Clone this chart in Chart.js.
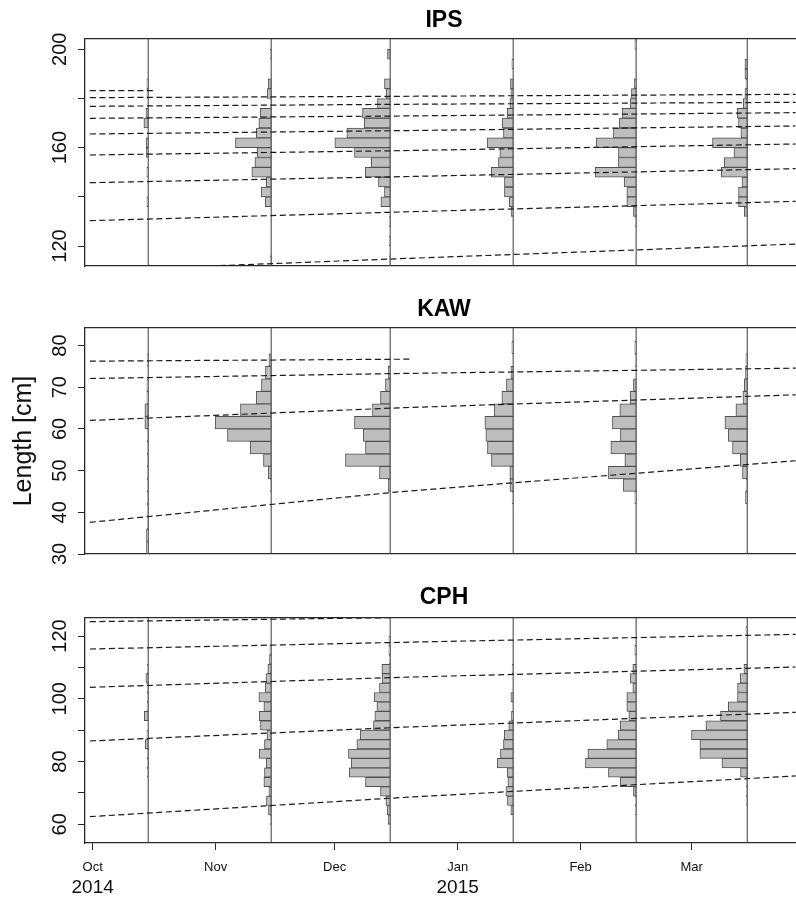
<!DOCTYPE html>
<html>
<head>
<meta charset="utf-8">
<title>Length frequency by month: IPS, KAW, CPH</title>
<script src="https://cdn.jsdelivr.net/npm/chart.js@4/dist/chart.umd.min.js"></script>
<style>
  html, body { margin: 0; padding: 0; background: #fff; width: 796px; height: 901px; overflow: hidden; }
  canvas { position: absolute; left: 0; }
</style>
</head>
<body>
<canvas id="ips" width="803" height="280" style="top:0px"></canvas>
<canvas id="kaw" width="803" height="295" style="top:280px"></canvas>
<canvas id="cph" width="803" height="326" style="top:575px"></canvas>
<script>
'use strict';

// x axis is "days after 1 Oct 2014"
const SAMPLE_DAYS = [14, 45, 75, 106, 137, 165];        // mid-month sampling dates
const MONTH_DAYS = [0, 31, 61, 92, 123, 151];
const MONTH_LABELS = ['Oct', 'Nov', 'Dec', 'Jan', 'Feb', 'Mar'];
const YEAR_DAYS = [0, 92];
const YEAR_LABELS = ['2014', '2015'];
const X_MIN = -1.93;
const X_MAX = 179.06;
const FREQ_TO_DAYS = 1 / 3.967;   // histogram bar length -> x units

// ---- IPS: 4 cm bins starting at 112 ----
const IPS_BIN_START = 112;
const IPS_BIN_WIDTH = 4;
const IPS_OCT = [0, 0, 0, 0, 0, 0, 1.3, 0, 0, 1.3, 0, 2, 2, 0, 4.3, 2.3, 0, 1.3, 1.3, 0, 0, 0, 0];
const IPS_NOV = [1, 0, 0, 0, 0, 0, 6, 10, 5, 19.3, 16.3, 14, 35.7, 15, 12.3, 11, 1, 4, 3, 0, 0, 1, 0];
const IPS_DEC = [1, 0, 1, 0, 1, 0, 9.3, 5.7, 11.7, 25, 19, 35.7, 55.3, 43.3, 26, 27.7, 12.7, 4, 5.7, 0, 0, 2.7, 0];
const IPS_JAN = [0, 0, 0, 0, 0, 2, 4, 8.7, 8.7, 22, 14.7, 13.3, 26, 9.7, 11, 6, 3.3, 2.3, 2.7, 0, 1.3, 0, 0];
const IPS_FEB = [0, 0, 0, 0, 1, 2.7, 9.3, 9.3, 12, 41, 17.7, 17.7, 40, 22.7, 17, 14, 6, 4.7, 2, 0, 0, 0, 1.3];
const IPS_MAR = [0, 0, 0, 0, 0, 3, 8.7, 8.7, 5.3, 26, 23, 13.3, 34.7, 6.3, 8.7, 10, 4, 2.3, 1.3, 2.3, 2.3, 0, 0];
const IPS_GROWTH = [
  [[-0.7, 183.2], [15.2, 183.2]],
  [[-0.7, 180.34], [77.5, 180.88], [177.2, 181.69]],
  [[-0.7, 176.81], [77.5, 177.63], [177.2, 178.44]],
  [[-0.7, 171.93], [77.5, 172.88], [177.2, 174.24]],
  [[-0.7, 165.56], [77.5, 166.92], [177.2, 168.81]],
  [[-0.7, 157.02], [77.5, 158.78], [177.2, 161.49]],
  [[-0.7, 145.76], [77.5, 148.2], [177.2, 151.46]],
  [[-0.7, 130.3], [77.5, 133.83], [177.2, 138.17]],
  [[32, 112.0], [77.5, 114.85], [177.2, 120.8]],
];

// ---- KAW: 3 cm bins starting at 30 ----
const KAW_BIN_START = 30;
const KAW_BIN_WIDTH = 3;
const KAW_OCT = [1.7, 1.7, 1, 1, 1, 1, 1, 1, 1, 1, 3.3, 3.3, 1.3, 1.3, 0, 1, 0, 0];
const KAW_NOV = [0, 0, 0, 0, 0, 1, 3, 7.7, 21, 43.7, 56, 30.7, 15, 9.7, 5.7, 2.3, 0, 0];
const KAW_DEC = [0, 0, 0, 0, 0, 2, 10.7, 44.7, 24.7, 27, 35.7, 17.7, 9.7, 4.7, 2, 0, 0, 0];
const KAW_JAN = [0, 0, 0, 0, 1, 3.3, 3.3, 21.7, 25.7, 27.3, 28.3, 19, 11.3, 6.7, 2.3, 0, 1.3, 0];
const KAW_FEB = [0, 0, 0, 0, 1.3, 13, 27.7, 11.3, 25.3, 15.7, 23.7, 16.3, 6, 2.7, 0, 1, 1.3, 0];
const KAW_MAR = [0, 0, 0, 0, 1.7, 1, 4.7, 7, 14.7, 19, 22.3, 11.3, 4.3, 3, 1.7, 1.3, 0, 0];
const KAW_GROWTH = [
  [[-0.7, 76.25], [80.7, 76.73]],
  [[-0.7, 72.09], [77.5, 73.29], [177.2, 74.57]],
  [[-0.7, 62.03], [77.5, 65.06], [177.2, 68.18]],
  [[-0.7, 37.59], [77.5, 44.94], [177.2, 52.36]],
];

// ---- CPH: 3 cm bins starting at 57 ----
const CPH_BIN_START = 57;
const CPH_BIN_WIDTH = 3;
const CPH_OCT = [0, 0, 0, 0, 0, 0, 1, 1, 1, 3, 1.3, 0, 4, 1, 1, 1, 2.3, 1, 0, 0, 0, 0];
const CPH_NOV = [0, 1, 2.7, 4.7, 2.3, 7.3, 6.7, 5, 12, 6.7, 4.3, 10.7, 12, 7.3, 12.3, 6, 5.3, 3.3, 1.7, 1.3, 0, 0];
const CPH_DEC = [0, 2, 3, 4.3, 9.7, 24.7, 41, 39, 41.7, 33.3, 30, 16.7, 15.3, 13.3, 16, 10.7, 8, 8.3, 1, 1.3, 1.3, 0];
const CPH_JAN = [0, 0, 2.3, 5.7, 7.3, 5.3, 6, 16, 12.7, 9.7, 9, 4.3, 1.7, 0, 2.3, 0, 0, 1, 0, 0, 0, 0];
const CPH_FEB = [0, 0, 1, 1, 2.7, 16, 27.7, 50.7, 48.3, 29.3, 18, 16, 7.3, 9.3, 9.3, 3.3, 6, 3.3, 0, 1.3, 0, 0];
const CPH_MAR = [0, 0, 0, 0.7, 0.7, 0.7, 6.7, 25.3, 47.3, 47.3, 55.7, 41.3, 26.7, 19, 9.7, 9.7, 7, 3.3, 0, 0, 0, 1.3];
const CPH_GROWTH = [
  [[-0.7, 124.57], [74.9, 125.84]],
  [[-0.7, 115.86], [77.5, 117.98], [177.2, 120.53]],
  [[-0.7, 103.65], [77.5, 106.83], [177.2, 110.12]],
  [[-0.7, 86.55], [77.5, 90.9], [177.2, 95.68]],
  [[-0.7, 62.44], [77.5, 68.5], [177.2, 75.4]],
];

const AXIS = '#2a2a2a';
Chart.defaults.font.family = "'Liberation Sans', Arial, Helvetica, sans-serif";
Chart.defaults.color = '#111';

function makePanel(p) {
  const datasets = [];

  p.growth.forEach(line => datasets.push({
    type: 'line', indexAxis: 'x', xAxisID: 'x', yAxisID: 'y',
    data: line.map(([x, y]) => ({ x, y })),
    borderColor: '#1a1a1a', borderWidth: 1.2, borderDash: [6, 3.5],
    pointRadius: 0, fill: false, order: 0,
  }));

  p.hist.forEach((freqs, m) => datasets.push({
    type: 'bar', indexAxis: 'y', xAxisID: 'x', yAxisID: 'y', grouped: false,
    data: freqs
      .map((f, i) => ({ f, i }))
      .filter(d => d.f > 0)
      .map(d => ({
        y: p.binStart + p.binWidth * (d.i + 0.5),
        x: [SAMPLE_DAYS[m] - d.f * FREQ_TO_DAYS, SAMPLE_DAYS[m]],
      })),
    backgroundColor: '#bebebe', borderColor: '#505050', borderWidth: 1, borderSkipped: false,
    barPercentage: 1, categoryPercentage: 1, order: 1,
  }));

  // sampling-date verticals
  datasets.push({
    type: 'line', indexAxis: 'x', xAxisID: 'x', yAxisID: 'y',
    data: SAMPLE_DAYS.flatMap(d => [{ x: d, y: p.yMin - 50 }, { x: d, y: p.yMax + 50 }, { x: d, y: null }]),
    borderColor: '#3a3a3a', borderWidth: 1, pointRadius: 0, spanGaps: false, fill: false, order: 2,
  });

  new Chart(document.getElementById(p.id), {
    type: 'bar',
    data: { datasets },
    options: {
      indexAxis: 'y',
      responsive: false,
      animation: false,
      devicePixelRatio: 1,
      layout: { padding: 0 },
      plugins: { legend: { display: false }, tooltip: { enabled: false }, title: { display: false } },
      scales: {
        x: {
          type: 'linear', axis: 'x', position: 'bottom', weight: 0,
          min: X_MIN, max: X_MAX, offset: false, beginAtZero: false,
          afterBuildTicks: s => { s.ticks = MONTH_DAYS.map(v => ({ value: v })); },
          ticks: {
            display: p.showMonths, autoSkip: false, minRotation: 0, maxRotation: 0,
            padding: 9.2, color: '#111', font: { size: 13 },
            callback: v => MONTH_LABELS[MONTH_DAYS.indexOf(v)],
          },
          grid: { display: p.showMonths, drawOnChartArea: false, offset: false, tickLength: 7, color: AXIS, lineWidth: 1 },
          border: { display: true, color: AXIS, width: 1.3 },
          afterFit: s => { s.height = p.bottomH; },
        },
        xYear: {
          type: 'linear', axis: 'x', position: 'bottom', weight: 1, display: p.showMonths,
          min: X_MIN, max: X_MAX, offset: false, beginAtZero: false,
          afterBuildTicks: s => { s.ticks = YEAR_DAYS.map(v => ({ value: v })); },
          ticks: {
            autoSkip: false, minRotation: 0, maxRotation: 0, padding: 1.8, color: '#111', font: { size: 19 },
            callback: v => YEAR_LABELS[YEAR_DAYS.indexOf(v)],
          },
          grid: { display: false, drawTicks: false },
          border: { display: false },
          afterFit: s => { s.height = p.yearH; },
        },
        xTop: {
          type: 'linear', axis: 'x', position: 'top',
          min: X_MIN, max: X_MAX, offset: false, beginAtZero: false,
          ticks: { display: false },
          grid: { display: false, drawTicks: false },
          border: { display: true, color: AXIS, width: 1.3 },
          title: {
            display: true, text: p.title, color: '#000',
            font: { size: 23, weight: 'bold' }, padding: { top: p.titlePad, bottom: 0 },
          },
          afterFit: s => { s.height = p.topH; },
        },
        y: {
          type: 'linear', position: 'left', min: p.yMin, max: p.yMax, offset: false, beginAtZero: false,
          afterBuildTicks: s => { s.ticks = p.yTicks.map(v => ({ value: v })); },
          ticks: {
            autoSkip: false, minRotation: 90, maxRotation: 90, crossAlign: 'center',
            padding: p.yPad, color: '#111', font: { size: 20 },
            callback: v => (p.yLabels.includes(v) ? String(v) : ''),
          },
          grid: { drawOnChartArea: false, offset: false, tickLength: 7, color: AXIS, lineWidth: 1 },
          border: { display: true, color: AXIS, width: 1.3 },
          title: {
            display: !!p.yTitle, text: p.yTitle || '', color: '#111',
            font: { size: 25 }, padding: { top: 8.8, bottom: 0 },
          },
          afterFit: s => { s.width = 85; },
        },
      },
    },
  });
}

makePanel({
  id: 'ips', title: 'IPS', titlePad: 7.0, topH: 39, bottomH: 14, yearH: 0, showMonths: false,
  yMin: 111.87, yMax: 204.19, yTicks: [120, 140, 160, 180, 200], yLabels: [120, 160, 200], yPad: 0.8,
  binStart: IPS_BIN_START, binWidth: IPS_BIN_WIDTH,
  hist: [IPS_OCT, IPS_NOV, IPS_DEC, IPS_JAN, IPS_FEB, IPS_MAR], growth: IPS_GROWTH,
});

makePanel({
  id: 'kaw', title: 'KAW', titlePad: 15.4, topH: 48, bottomH: 21, yearH: 0, showMonths: false,
  yMin: 30, yMax: 84.2, yTicks: [30, 40, 50, 60, 70, 80], yLabels: [30, 40, 50, 60, 70, 80], yPad: 6.4,
  yTitle: 'Length [cm]',
  binStart: KAW_BIN_START, binWidth: KAW_BIN_WIDTH,
  hist: [KAW_OCT, KAW_NOV, KAW_DEC, KAW_JAN, KAW_FEB, KAW_MAR], growth: KAW_GROWTH,
});

makePanel({
  id: 'cph', title: 'CPH', titlePad: 8.7, topH: 43, bottomH: 31.8, yearH: 26.2, showMonths: true,
  yMin: 54.04, yMax: 125.74, yTicks: [60, 70, 80, 90, 100, 110, 120], yLabels: [60, 80, 100, 120], yPad: 0.8,
  binStart: CPH_BIN_START, binWidth: CPH_BIN_WIDTH,
  hist: [CPH_OCT, CPH_NOV, CPH_DEC, CPH_JAN, CPH_FEB, CPH_MAR], growth: CPH_GROWTH,
});
</script>
</body>
</html>
